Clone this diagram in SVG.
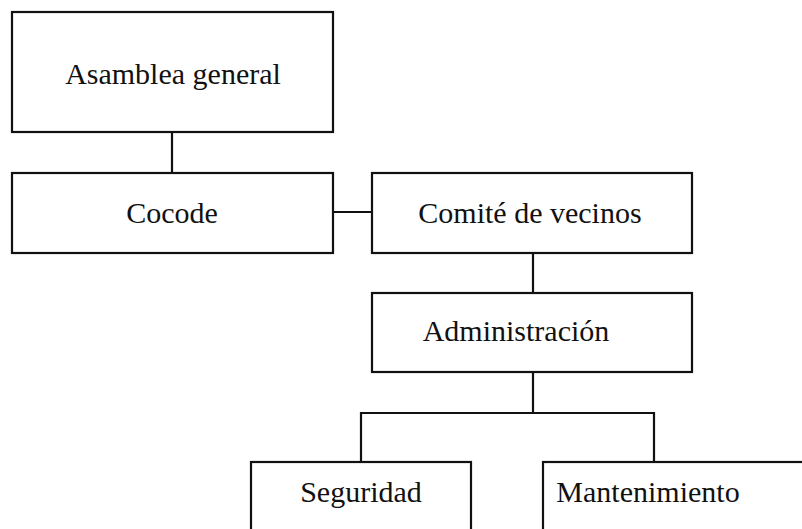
<svg xmlns="http://www.w3.org/2000/svg" width="802" height="529" viewBox="0 0 802 529">
<style>
.box{fill:#fff;stroke:#111;stroke-width:2.2}
.lbl{font-family:"Liberation Serif","Times New Roman",serif;font-size:30px;fill:#111;text-anchor:middle}
.con{fill:none;stroke:#111;stroke-width:2.2}
</style>
<rect width="802" height="529" fill="#fff"/>
<g id="connectors">
<line class="con" x1="172" y1="132" x2="172" y2="173"/>
<line class="con" x1="333" y1="212" x2="372" y2="212"/>
<line class="con" x1="533" y1="253" x2="533" y2="293"/>
<polyline class="con" points="533,372 533,413"/>
<polyline class="con" points="361,462 361,413 654,413 654,462"/>
</g>
<g id="asamblea">
<rect class="box" x="12" y="12" width="321" height="120"/>
<text class="lbl" x="173" y="84">Asamblea general</text>
</g>
<g id="cocode">
<rect class="box" x="12" y="173" width="321" height="80"/>
<text class="lbl" x="172" y="223">Cocode</text>
</g>
<g id="comite">
<rect class="box" x="372" y="173" width="320" height="80"/>
<text class="lbl" x="530" y="223">Comité de vecinos</text>
</g>
<g id="administracion">
<rect class="box" x="372" y="293" width="320" height="79"/>
<text class="lbl" x="516" y="341">Administración</text>
</g>
<g id="seguridad">
<rect class="box" x="251" y="462" width="220" height="80"/>
<text class="lbl" x="361" y="502">Seguridad</text>
</g>
<g id="mantenimiento">
<rect class="box" x="543" y="462" width="280" height="80"/>
<text class="lbl" x="648" y="502">Mantenimiento</text>
</g>
</svg>
